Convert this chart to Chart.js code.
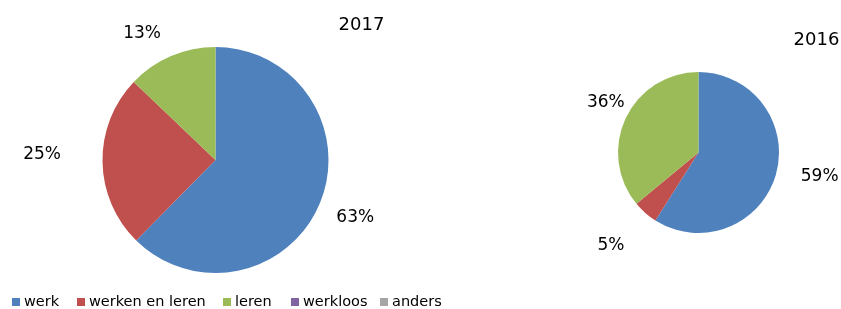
<!DOCTYPE html>
<html>
<head>
<meta charset="utf-8">
<script src="https://cdn.jsdelivr.net/npm/chart.js@4"></script>
<style>
  body { margin: 0; background: #fff; width: 841px; height: 309px; overflow: hidden; position: relative; font-family: "DejaVu Sans", sans-serif; }
  canvas { position: absolute; left: 0; top: 0; }
  #legend { position: absolute; left: 0; top: 293px; width: 841px; height: 17px; font-size: 14.5px; line-height: 17px; color: #000; }
  #legend .item { position: absolute; top: 0; display: flex; align-items: center; white-space: nowrap; }
  #legend .box { width: 8px; height: 8px; margin-right: 4px; }
</style>
</head>
<body>
<canvas id="chart2017" width="841" height="309"></canvas>
<canvas id="chart2016" width="841" height="309"></canvas>
<div id="legend"></div>
<script>
let categories = ['werk', 'werken en leren', 'leren', 'werkloos', 'anders'];
let colors = ['#4F81BD', '#C0504D', '#9BBB59', '#8064A2', '#A5A5A5'];

let values2017 = [63, 25, 13, 0, 0];
let values2016 = [59, 5, 36, 0, 0];

// legend item left edges (layout only)
let legendLeft = [12, 77, 223, 291, 380];

// percent labels drawn outside the slices + the year title
let pieLabels = {
  id: 'pieLabels',
  afterDraw(chart, args, opts) {
    let ctx = chart.ctx;
    let meta = chart.getDatasetMeta(0);
    let data = chart.data.datasets[0].data;
    ctx.save();
    ctx.fillStyle = '#000';
    ctx.textAlign = 'center';
    ctx.textBaseline = 'middle';
    ctx.font = '17px "DejaVu Sans"';
    meta.data.forEach(function (arc, i) {
      if (!data[i]) return;
      let p = arc.getProps(['x', 'y', 'startAngle', 'endAngle']);
      let mid = (p.startAngle + p.endAngle) / 2 + opts.nudge[i] * Math.PI / 180;
      let d = opts.dist[i];
      ctx.fillText(data[i] + '%', p.x + Math.cos(mid) * d, p.y + Math.sin(mid) * d);
    });
    ctx.font = '18px "DejaVu Sans"';
    ctx.fillText(opts.title, opts.titleX, opts.titleY);
    ctx.restore();
  }
};

function makePie(canvas, values, padding, labelOpts) {
  return new Chart(canvas, {
    type: 'pie',
    data: {
      labels: categories,
      datasets: [{
        data: values,
        backgroundColor: colors,
        borderWidth: 0
      }]
    },
    options: {
      responsive: false,
      animation: false,
      layout: { padding: padding },
      plugins: {
        legend: { display: false },
        tooltip: { enabled: false },
        pieLabels: labelOpts
      }
    },
    plugins: [pieLabels]
  });
}

makePie(document.querySelector('#chart2017'), values2017,
  { left: 102.5, right: 512.5, top: 47, bottom: 36 },
  { dist: [151, 173.5, 146, 0, 0], nudge: [0, 2.6, -7, 0, 0], title: '2017', titleX: 361.5, titleY: 25 });

makePie(document.querySelector('#chart2016'), values2016,
  { left: 618, right: 62, top: 72, bottom: 76 },
  { dist: [123.5, 128, 105.5, 0, 0], nudge: [-5, 1.7, 3.3, 0, 0], title: '2016', titleX: 816.5, titleY: 40 });

// Legend
let legend = document.querySelector('#legend');
let html = '';
for (let i = 0; i < categories.length; i++) {
  html += `<div class="item" style="left:${legendLeft[i]}px"><span class="box" style="background:${colors[i]}"></span>${categories[i]}</div>`;
}
legend.innerHTML = html;
</script>
</body>
</html>
